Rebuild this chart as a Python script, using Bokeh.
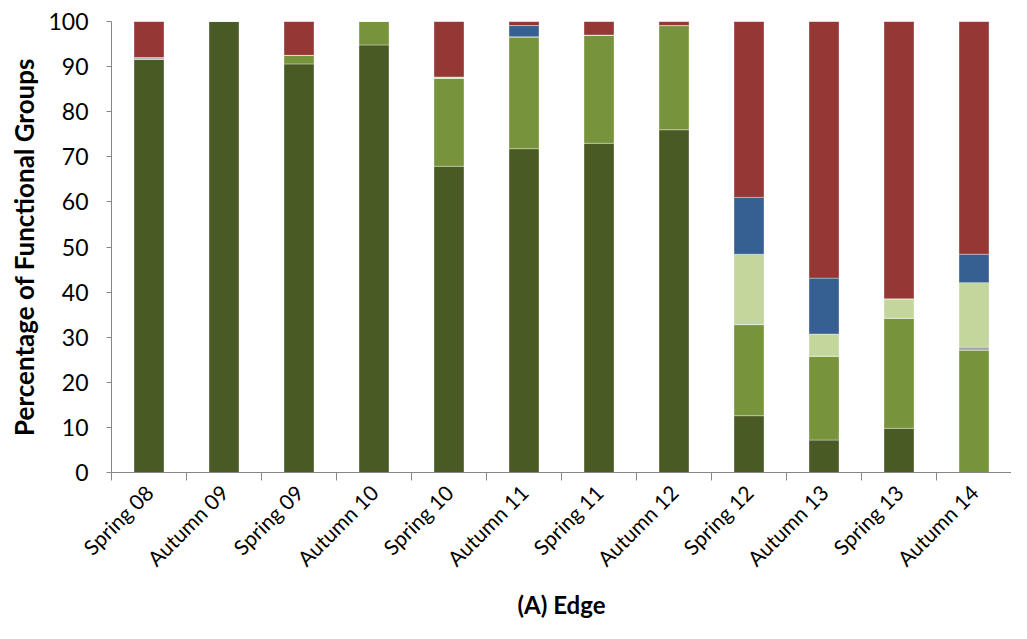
import math
from bokeh.plotting import figure
from bokeh.models import ColumnDataSource, FixedTicker, Range1d
from bokeh.embed import file_html
from bokeh.resources import INLINE

categories = ["Spring 08", "Autumn 09", "Spring 09", "Autumn 10", "Spring 10", "Autumn 11",
              "Spring 11", "Autumn 12", "Spring 12", "Autumn 13", "Spring 13", "Autumn 14"]
dark_green = [91.6, 100.0, 90.6, 94.8, 67.9, 71.8, 73.0, 76.0, 12.6, 7.2, 9.8, 0.0]
mid_green = [0.0, 0.0, 1.9, 5.2, 19.5, 24.8, 24.0, 23.1, 20.2, 18.6, 24.4, 27.1]
grey = [0.4, 0.0, 0.0, 0.0, 0.0, 0.0, 0.0, 0.0, 0.0, 0.0, 0.0, 0.7]
light_green = [0.0, 0.0, 0.0, 0.0, 0.3, 0.0, 0.0, 0.0, 15.6, 4.9, 4.3, 14.3]
blue = [0.0, 0.0, 0.0, 0.0, 0.0, 2.5, 0.0, 0.0, 12.6, 12.4, 0.0, 6.3]
series = [dark_green, mid_green, grey, light_green, blue]
red = [round(100 - sum(s[i] for s in series), 2) for i in range(len(categories))]

names = ["dark", "mid", "grey", "light", "blue", "red"]
colors = ["#4A5A24", "#77933C", "#A6A6A6", "#C3D69B", "#376092", "#953735"]

data = {"x": [i + 0.5 for i in range(len(categories))]}
for n, vals in zip(names, series + [red]):
    data[n] = vals
source = ColumnDataSource(data)

p = figure(width=1011, height=623, output_backend="svg", toolbar_location=None,
           x_range=Range1d(0, len(categories)), y_range=Range1d(0, 100),
           min_border_left=111, min_border_right=0, min_border_top=21, min_border_bottom=151)
p.vbar_stack(names, x="x", width=0.4, source=source, color=colors,
             line_color="white", line_alpha=0.35, line_width=1)

p.outline_line_color = None
p.xgrid.grid_line_color = None
p.ygrid.grid_line_color = None

font = "Lato"
axcol = "#868686"

p.yaxis.ticker = FixedTicker(ticks=list(range(0, 101, 10)))
p.yaxis.major_tick_in = 0
p.yaxis.major_tick_out = 5
p.yaxis.minor_tick_line_color = None
p.yaxis.axis_line_color = axcol
p.yaxis.major_tick_line_color = axcol
p.yaxis.major_label_text_font = font
p.yaxis.major_label_text_font_size = "23px"
p.yaxis.major_label_text_color = "#000000"
p.yaxis.major_label_standoff = 18
p.yaxis.axis_label = "Percentage of Functional Groups"
p.yaxis.axis_label_text_font = font
p.yaxis.axis_label_text_font_style = "bold"
p.yaxis.axis_label_text_font_size = "26px"
p.yaxis.axis_label_text_color = "#000000"
p.yaxis.axis_label_standoff = 5

p.xaxis.ticker = FixedTicker(ticks=[i + 0.5 for i in range(len(categories))],
                             minor_ticks=list(range(len(categories) + 1)))
p.xaxis.major_label_overrides = {i + 0.5: c for i, c in enumerate(categories)}
p.xaxis.major_tick_in = 0
p.xaxis.major_tick_out = 0
p.xaxis.minor_tick_in = 0
p.xaxis.minor_tick_out = 8
p.xaxis.axis_line_color = axcol
p.xaxis.minor_tick_line_color = axcol
p.xaxis.major_label_orientation = math.pi / 4
p.xaxis.major_label_text_font = font
p.xaxis.major_label_text_font_size = "21px"
p.xaxis.major_label_text_color = "#000000"
p.xaxis.major_label_standoff = 8
p.xaxis.axis_label = "(A) Edge"
p.xaxis.axis_label_text_font = font
p.xaxis.axis_label_text_font_style = "bold"
p.xaxis.axis_label_text_font_size = "24px"
p.xaxis.axis_label_text_color = "#000000"
p.xaxis.axis_label_standoff = 8

open("out.html", "w").write(file_html(p, INLINE))
